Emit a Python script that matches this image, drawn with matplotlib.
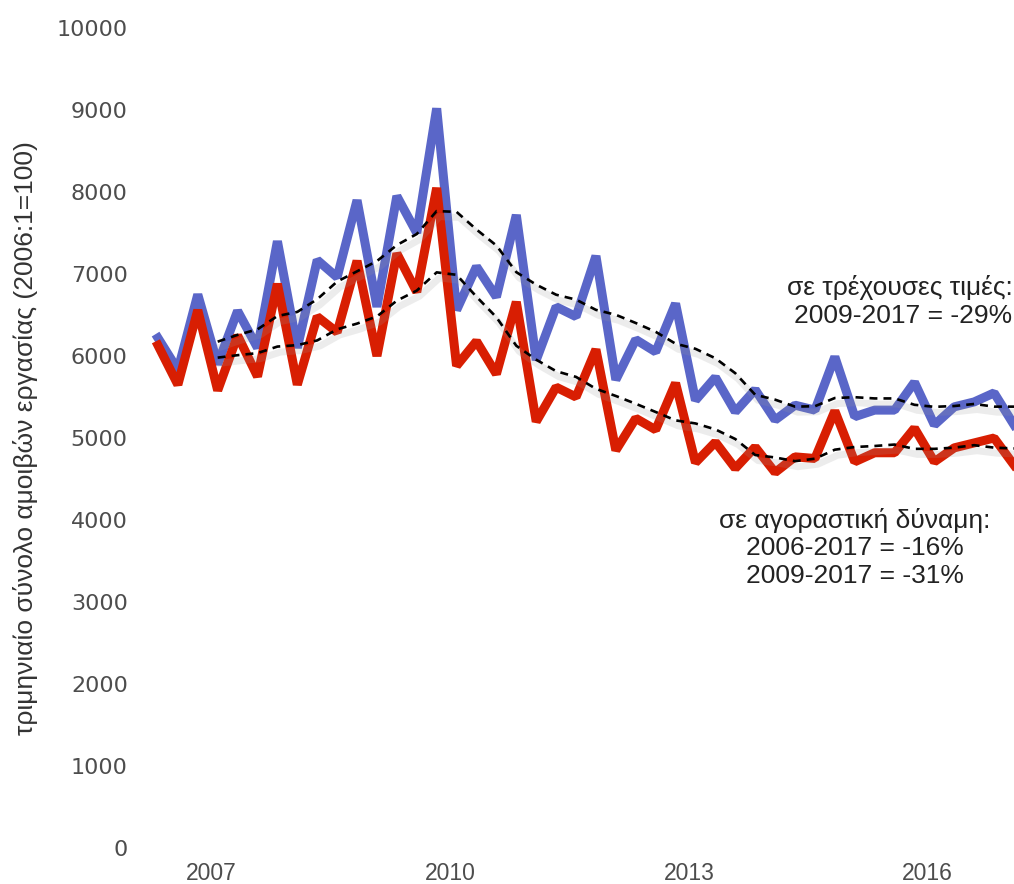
import pandas as pd
import matplotlib.pyplot as plt
from matplotlib.transforms import ScaledTranslation

plt.rcParams['font.family'] = ['Liberation Sans', 'DejaVu Sans']

# quarterly data, 2006Q2 - 2017Q1
quarters = pd.period_range('2006Q2', '2017Q1', freq='Q')
nominal = [6220, 5830, 6750, 5900, 6550, 6100, 7400, 6100, 7170, 6960, 7900,
           6600, 7950, 7500, 9020, 6560, 7090, 6720, 7720, 5950, 6600,
           6480, 7220, 5710, 6200, 6050, 6640, 5460, 5740, 5320, 5590,
           5220, 5400, 5340, 5990, 5260, 5340, 5340, 5680, 5160, 5380,
           5440, 5550, 5160]
real = [6130, 5650, 6560, 5580, 6250, 5750, 6880, 5650, 6480, 6290, 7160,
        6000, 7250, 6780, 8050, 5880, 6180, 5780, 6660, 5200, 5620,
        5500, 6080, 4850, 5240, 5100, 5670, 4700, 4950, 4630, 4890,
        4580, 4770, 4750, 5330, 4710, 4820, 4820, 5120, 4710, 4880,
        4940, 5000, 4670]
year_ticks = [2007, 2010, 2013, 2016]

# position of each quarter on a decimal-year axis
x = quarters.year + (quarters.quarter - 1) / 4 + 1 / 12
df = pd.DataFrame({'nominal': nominal, 'real': real}, index=x)

fig = plt.figure(figsize=(10.14, 8.84), dpi=100)
ax = fig.add_axes([150 / 1014, 36 / 884, 864 / 1014, 820 / 884])

ax.plot(df.index, df['nominal'], color='#5a66c8', lw=6.5, solid_joinstyle='bevel')
ax.plot(df.index, df['real'], color='#d81e02', lw=6.5, solid_joinstyle='bevel')

# 4-quarter moving averages with a soft drop shadow
shadow = ax.transData + ScaledTranslation(2 / 72, -4 / 72, fig.dpi_scale_trans)
for col in ['nominal', 'real']:
    ma = df[col].rolling(4).mean()
    ax.plot(ma.index, ma, color='#999999', lw=5, alpha=0.18, transform=shadow)
    ax.plot(ma.index, ma, color='black', lw=1.9, ls=(0, (3, 2.3)))

ax.set_ylim(0, 10000)
ax.set_xlim(x[0] - 0.1, x[-1])
ax.set_yticks(range(0, 10001, 1000))
ax.set_xticks(year_ticks)
ax.tick_params(length=0)
ax.tick_params(axis='y', pad=16, labelcolor='#4d4d4d')
ax.tick_params(axis='x', pad=10, labelcolor='#4d4d4d')
for lab in ax.get_yticklabels():
    lab.set_family('DejaVu Sans')
    lab.set_fontsize(16)
for lab in ax.get_xticklabels():
    lab.set_fontsize(16.5)
for s in ax.spines.values():
    s.set_visible(False)

ax.set_ylabel('τριμηνιαίο σύνολο αμοιβών εργασίας (2006:1=100)',
              fontsize=19, color='#333333')
ax.yaxis.set_label_coords(-0.13, 0.5)

ax.text(0.998, 0.666, 'σε τρέχουσες τιμές:\n2009-2017 = -29%',
        transform=ax.transAxes, ha='right', va='center', fontsize=19,
        color='#222222', linespacing=1.2)
ax.text(0.816, 0.366, 'σε αγοραστική δύναμη:\n2006-2017 = -16%\n2009-2017 = -31%',
        transform=ax.transAxes, ha='center', va='center', fontsize=19,
        color='#222222', linespacing=1.2, multialignment='center')

fig.savefig('out.png', dpi=100)
